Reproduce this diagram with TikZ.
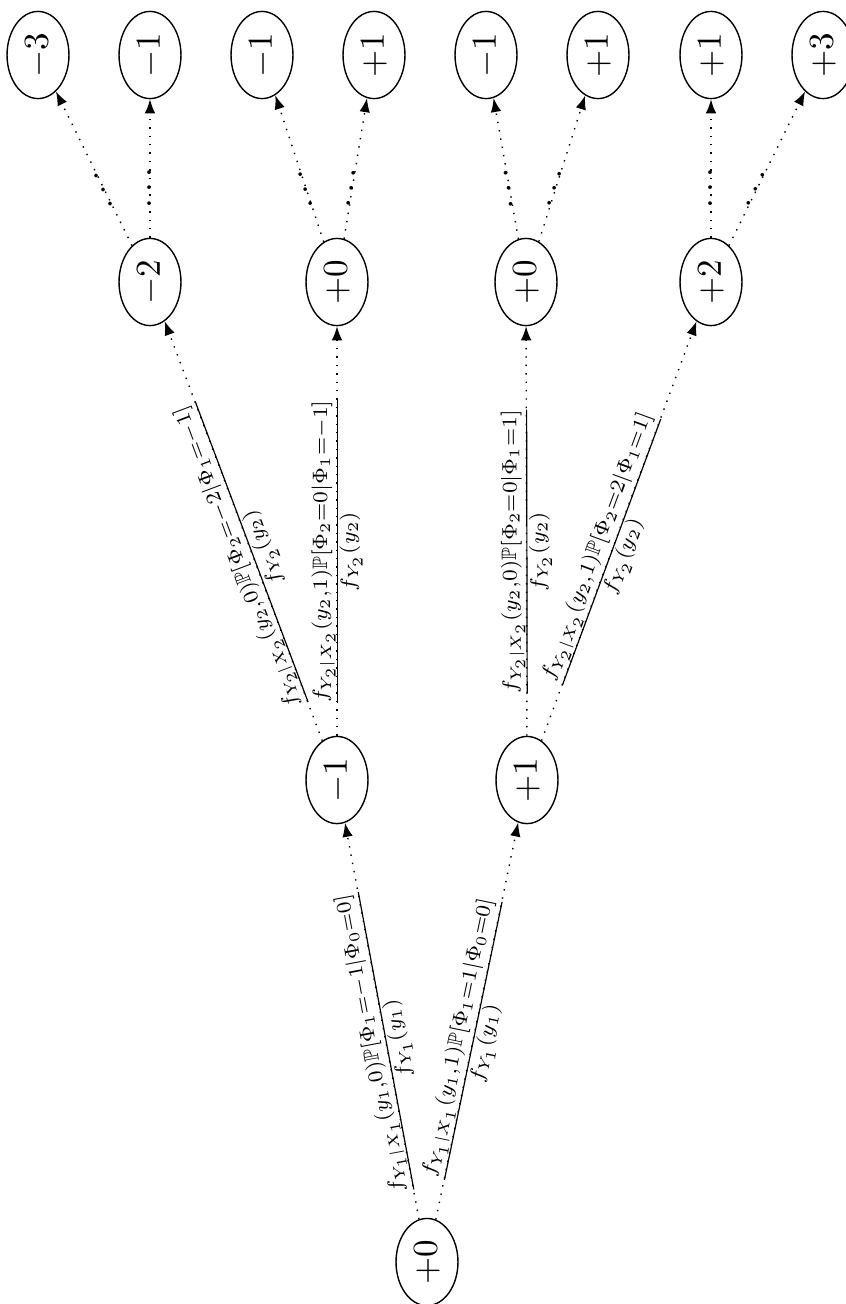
\documentclass[tikz,border=0pt]{standalone}
\usepackage{amsmath,amssymb,graphicx}
\usetikzlibrary{shapes.geometric,arrows.meta}
\newcommand{\lfr}[2]{\scalebox{0.85}{$\frac{#1}{#2}$}}
\begin{document}
\begin{tikzpicture}[x=0.2857pt,y=-0.2857pt,
  st/.style={ellipse,draw,thin,inner sep=0pt,minimum width=24.9pt,minimum height=17.7pt,rotate=90},
  con/.style={dotted,-{Latex[length=4pt,width=3pt]}},
  lab/.style={sloped,allow upside down,pos=0.45,inner sep=0pt},
  dts/.style={sloped,allow upside down,pos=0.38,inner sep=0pt}]
\useasboundingbox (0,0) rectangle (846,1304);
\node[st] (r) at (427,1262) {$+0$};
\node[st] (a) at (337,780) {$-1$};
\node[st] (b) at (527,780) {$+1$};
\node[st] (c) at (150,282) {$-2$};
\node[st] (d) at (337,282) {$+0$};
\node[st] (e) at (526,282) {$+0$};
\node[st] (f) at (711,282) {$+2$};
\node[st] (g1) at (38,55) {$-3$};
\node[st] (g2) at (150,55) {$-1$};
\node[st] (g3) at (262,55) {$-1$};
\node[st] (g4) at (374,55) {$+1$};
\node[st] (g5) at (486,55) {$-1$};
\node[st] (g6) at (598,55) {$+1$};
\node[st] (g7) at (711,55) {$+1$};
\node[st] (g8) at (823,55) {$+3$};
\draw[con] (r) -- node[lab] (l1) {\lfr{f_{Y_1|X_1}(y_1,0)\mathbb{P}[\Phi_1=-1|\Phi_0=0]}{f_{Y_1}(y_1)}} (a);
\draw[con] (r) -- node[lab] (l2) {\lfr{f_{Y_1|X_1}(y_1,1)\mathbb{P}[\Phi_1=1|\Phi_0=0]}{f_{Y_1}(y_1)}} (b);
\draw[con] (a) -- node[lab] (l3) {\lfr{f_{Y_2|X_2}(y_2,0)\mathbb{P}[\Phi_2=-2|\Phi_1=-1]}{f_{Y_2}(y_2)}} (c);
\draw[con] (a) -- node[lab] (l4) {\lfr{f_{Y_2|X_2}(y_2,1)\mathbb{P}[\Phi_2=0|\Phi_1=-1]}{f_{Y_2}(y_2)}} (d);
\draw[con] (b) -- node[lab] (l5) {\lfr{f_{Y_2|X_2}(y_2,0)\mathbb{P}[\Phi_2=0|\Phi_1=1]}{f_{Y_2}(y_2)}} (e);
\draw[con] (b) -- node[lab] (l6) {\lfr{f_{Y_2|X_2}(y_2,1)\mathbb{P}[\Phi_2=2|\Phi_1=1]}{f_{Y_2}(y_2)}} (f);
\draw[con] (c) -- node[dts] (m1) {$\cdots$} (g1);
\draw[con] (c) -- node[dts] (m2) {$\cdots$} (g2);
\draw[con] (d) -- node[dts] (m3) {$\cdots$} (g3);
\draw[con] (d) -- node[dts] (m4) {$\cdots$} (g4);
\draw[con] (e) -- node[dts] (m5) {$\cdots$} (g5);
\draw[con] (e) -- node[dts] (m6) {$\cdots$} (g6);
\draw[con] (f) -- node[dts] (m7) {$\cdots$} (g7);
\draw[con] (f) -- node[dts] (m8) {$\cdots$} (g8);
\end{tikzpicture}
\end{document}
